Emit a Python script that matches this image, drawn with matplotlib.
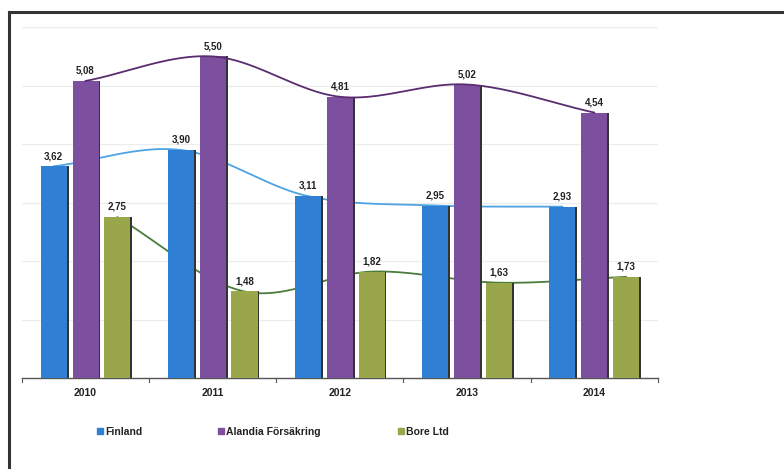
import numpy as np
import matplotlib
matplotlib.use("Agg")
import matplotlib.pyplot as plt
from matplotlib.lines import Line2D

years = ["2010", "2011", "2012", "2013", "2014"]
series_names = ["Finland", "Alandia Försäkring", "Bore Ltd"]
finland = [3.62, 3.90, 3.11, 2.95, 2.93]
alandia = [5.08, 5.50, 4.81, 5.02, 4.54]
bore = [2.75, 1.48, 1.82, 1.63, 1.73]

bar_colors = ["#2f7fd4", "#7d4f9f", "#99a64a"]
line_colors = ["#4fa3e3", "#5a2d6e", "#4b7d3a"]

plt.rcParams['font.family'] = ['Liberation Sans', 'DejaVu Sans']

fig = plt.figure(figsize=(7.84, 4.69), dpi=100)
ax = fig.add_axes([0.028, 0.194, 0.811, 0.748])

def catmull(xs, ys, n=40):
    xs = np.asarray(xs, float); ys = np.asarray(ys, float)
    px = np.concatenate([[2*xs[0]-xs[1]], xs, [2*xs[-1]-xs[-2]]])
    py = np.concatenate([[2*ys[0]-ys[1]], ys, [2*ys[-1]-ys[-2]]])
    ox, oy = [], []
    t = np.linspace(0, 1, n)
    for i in range(1, len(px)-2):
        for arr, out in ((px, ox), (py, oy)):
            p0, p1, p2, p3 = arr[i-1], arr[i], arr[i+1], arr[i+2]
            out.extend(0.5*((2*p1) + (-p0+p2)*t + (2*p0-5*p1+4*p2-p3)*t**2 + (-p0+3*p1-3*p2+p3)*t**3))
    return np.array(ox), np.array(oy)

x = np.arange(len(years))
width = 0.205
offs = [-0.25, 0.0, 0.25]
data = [finland, alandia, bore]

for k, (vals, off) in enumerate(zip(data, offs)):
    xs = x + off
    ax.bar(xs + 0.014, vals, width, color="#333333", zorder=2)
    ax.bar(xs, vals, width, color=bar_colors[k], zorder=3)
    lx, ly = catmull(xs, vals)
    ax.plot(lx, ly, color=line_colors[k], lw=1.3, zorder=1.5 if k != 1 else 4)
    for xi, v in zip(xs, vals):
        ax.text(xi, v + 0.09, f"{v:.2f}".replace(".", ","), ha="center", va="bottom",
                fontsize=7, fontweight="bold", color="#222222", zorder=5)

ax.set_xlim(-0.5, 4.5)
ax.set_ylim(0, 6)
for g in range(1, 7):
    ax.axhline(g, color="#ececec", lw=0.8, zorder=0)
for s in ["top", "right", "left"]:
    ax.spines[s].set_visible(False)
ax.spines["bottom"].set_color("#555555")
ax.spines["bottom"].set_linewidth(1.0)
ax.set_yticks([])
ax.set_xticks(x)
ax.set_xticklabels(years, fontsize=7.5, fontweight="bold", color="#222222")
ax.tick_params(axis="x", length=0, pad=7)
for b in np.arange(-0.5, 5.0, 1.0):
    ax.plot([b, b], [0, -0.07], color="#555555", lw=0.8, clip_on=False)

leg_x = [97, 218, 398]
for name, c, px in zip(series_names, bar_colors, leg_x):
    h = Line2D([], [], marker="s", ls="", markersize=4, color=c)
    lg = fig.legend([h], [name], loc="center left", bbox_to_anchor=((px - 1) / 784, 1 - 432 / 469),
                    frameon=False, handletextpad=0.05, borderpad=0, borderaxespad=0,
                    prop={"size": 7.5, "weight": "bold"}, handlelength=0.8)
    for t in lg.get_texts():
        t.set_color("#222222")

fig.add_artist(Line2D([0.011, 1.0], [1 - 12/469, 1 - 12/469], color="#333333", lw=2.2))
fig.add_artist(Line2D([0.012, 0.012], [0, 1 - 12/469], color="#333333", lw=2.2))

fig.savefig("out.png", dpi=100)
